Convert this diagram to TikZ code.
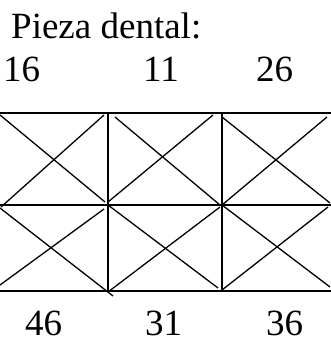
\documentclass[tikz,border=0pt]{standalone}
\usepackage{fontspec}
\setmainfont{Liberation Serif}
\begin{document}
\begin{tikzpicture}[x=1pt,y=-1pt,
  gridline/.style={line width=1.6pt},
  diag/.style={line width=1.3pt},
  lbl/.style={anchor=base west,inner sep=0pt,font=\fontsize{37}{40}\selectfont}]
\useasboundingbox (0,0) rectangle (331,342);
% labels
\node[lbl] (title) at (11,39) {Pieza dental:};
\node[lbl] (t16) at (3,82) {16};
\node[lbl] (t11) at (143,82) {11};
\node[lbl] (t26) at (256,82) {26};
\node[lbl] (b46) at (25,335) {46};
\node[lbl] (b31) at (145,335) {31};
\node[lbl] (b36) at (266,335) {36};
% grid
\draw[gridline] (0,113) -- (331,113);
\draw[gridline] (0,205) -- (331,205);
\draw[gridline] (0,291) -- (331,291);
\draw[gridline] (108,113) -- (108,291);
\draw[gridline] (222,113) -- (222,291);
% top row diagonals
\draw[diag] (0,115) -- (105,202);
\draw[diag] (1,207) -- (104,115);
\draw[diag] (115,117) -- (220,205);
\draw[diag] (108,202) -- (213,115);
\draw[diag] (222,117) -- (330,203);
\draw[diag] (222,205) -- (327,117);
% bottom row diagonals
\draw[diag] (0,208) -- (113,296);
\draw[diag] (104,209) -- (0,285);
\draw[diag] (108,205) -- (218,288);
\draw[diag] (220,207) -- (108,292);
\draw[diag] (222,205) -- (330,287);
\draw[diag] (328,207) -- (222,290);
\end{tikzpicture}
\end{document}
